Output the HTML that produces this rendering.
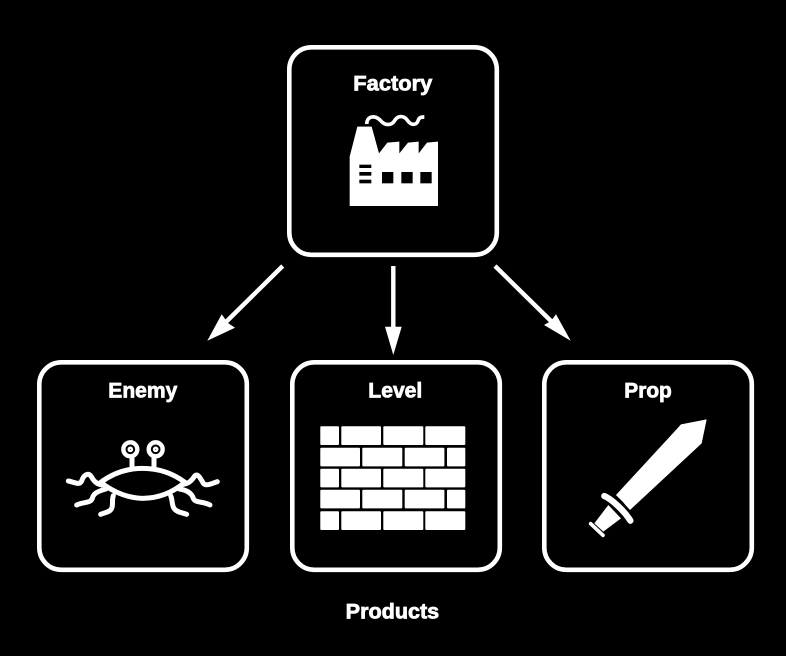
<!DOCTYPE html>
<html>
<head>
<meta charset="utf-8">
<style>
html,body{margin:0;padding:0;background:#000;width:786px;height:656px;overflow:hidden}
svg{display:block;filter:blur(.35px)}
text{font-family:"Liberation Sans",sans-serif;font-weight:bold;font-size:21px;fill:#fff;stroke:#fff;stroke-width:.75px}
</style>
</head>
<body>
<svg width="786" height="656" viewBox="0 0 786 656">
<rect width="786" height="656" fill="#000"/>
<g fill="#000" stroke="#fff" stroke-width="4.6">
<rect x="289.3" y="47.3" width="207.5" height="207.5" rx="22"/>
<rect x="39.3" y="362.3" width="207.5" height="207.5" rx="22"/>
<rect x="292.3" y="362.3" width="207.5" height="207.5" rx="22"/>
<rect x="544.3" y="362.3" width="207.5" height="207.5" rx="22"/>
</g>
<text x="353.3" y="90.5" textLength="79" lengthAdjust="spacingAndGlyphs">Factory</text>
<text x="108.3" y="397.3" textLength="69" lengthAdjust="spacingAndGlyphs">Enemy</text>
<text x="368.3" y="397.3" textLength="54" lengthAdjust="spacingAndGlyphs">Level</text>
<text x="624.3" y="397.3" textLength="47.5" lengthAdjust="spacingAndGlyphs">Prop</text>
<text x="345.7" y="618.5" textLength="93.5" lengthAdjust="spacingAndGlyphs">Products</text>

<!-- factory -->
<g transform="translate(280,40) scale(.33333)">
<path fill="#fff" d="M209 498V350L232 260H275L297 340L322 308L358 305V340L384 308L416 305V340L441 308L474 305V498Z"/>
<g fill="#000">
<rect x="306" y="396" width="34" height="34"/>
<rect x="364" y="396" width="34" height="34"/>
<rect x="421" y="396" width="34" height="34"/>
<rect x="238" y="374" width="36" height="10"/>
<rect x="238" y="396" width="36" height="11"/>
<rect x="238" y="419" width="36" height="11"/>
</g>
<path fill="none" stroke="#fff" stroke-width="11" d="M260 252C262 226 285 226 300 240C315 258 335 258 345 240C355 226 372 226 383 242C395 258 410 256 415 240C418 232 424 231 433 231"/>
</g>

<!-- enemy -->
<g transform="translate(30,355) scale(.33333)" fill="none" stroke="#fff" stroke-width="15" stroke-linecap="round" stroke-linejoin="round">
<circle cx="301" cy="283" r="21" stroke-width="13"/>
<circle cx="377" cy="283" r="21" stroke-width="13"/>
<circle cx="301" cy="283" r="5" stroke-width="7"/>
<circle cx="377" cy="283" r="5" stroke-width="7"/>
<path d="M306 304V340M372 304V340"/>
<path d="M212 382C255 350 300 340 338 340C380 340 425 352 465 382C425 415 380 430 338 430C300 430 255 415 212 382Z"/>
<path d="M215 390C195 385 190 375 182 362C172 352 160 362 155 378C148 392 135 382 115 378"/>
<path d="M228 402C205 408 190 415 187 430C182 445 160 440 140 450"/>
<path d="M250 422C245 435 250 450 245 460C240 472 225 472 212 478"/>
<path d="M460 388C480 385 488 372 495 362C505 355 512 372 520 385C530 395 545 385 562 380"/>
<path d="M448 402C470 405 485 415 490 430C495 445 520 438 540 450"/>
<path d="M422 422C428 435 425 450 432 460C440 472 455 472 470 478"/>
</g>

<!-- bricks -->
<g fill="#fff">
<rect x="320.3" y="426.3" width="18.7" height="18.7" rx="1"/><rect x="341.3" y="426.3" width="39.7" height="18.7" rx="1"/><rect x="383.3" y="426.3" width="40" height="18.7" rx="1"/><rect x="425.3" y="426.3" width="40" height="18.7" rx="1"/>
<rect x="320.3" y="447.7" width="39.7" height="18.7" rx="1"/><rect x="362.3" y="447.7" width="40" height="18.7" rx="1"/><rect x="404.7" y="447.7" width="39.7" height="18.7" rx="1"/><rect x="447" y="447.7" width="18.3" height="18.7" rx="1"/>
<rect x="320.3" y="468.7" width="18.7" height="18.7" rx="1"/><rect x="341.3" y="468.7" width="39.7" height="18.7" rx="1"/><rect x="383.3" y="468.7" width="40" height="18.7" rx="1"/><rect x="425.3" y="468.7" width="40" height="18.7" rx="1"/>
<rect x="320.3" y="489.7" width="39.7" height="18.7" rx="1"/><rect x="362.3" y="489.7" width="40" height="18.7" rx="1"/><rect x="404.7" y="489.7" width="39.7" height="18.7" rx="1"/><rect x="447" y="489.7" width="18.3" height="18.7" rx="1"/>
<rect x="320.3" y="511.3" width="18.7" height="18.7" rx="1"/><rect x="341.3" y="511.3" width="39.7" height="18.7" rx="1"/><rect x="383.3" y="511.3" width="40" height="18.7" rx="1"/><rect x="425.3" y="511.3" width="40" height="18.7" rx="1"/>
</g>

<!-- sword -->
<g transform="translate(535,355) scale(.33333)">
<path fill="#fff" d="M515 193L438 208L420 228L243 420L285 465L500 265Z"/>
<path fill="none" stroke="#fff" stroke-width="19" stroke-linecap="round" d="M208 423C230 432 270 470 286 497"/>
<path fill="none" stroke="#000" stroke-width="3" d="M238 420C255 432 270 448 280 466"/>
<path fill="#fff" d="M220 450L258 490L205 530L178 505Z"/>
<path fill="none" stroke="#fff" stroke-width="11" stroke-linecap="round" d="M167 506L204 541"/>
</g>

<!-- arrows -->
<g stroke="#fff" stroke-width="4.4" fill="none">
<path d="M282.7 266L226 322"/>
<path d="M393.3 266V330"/>
<path d="M495 266L552 322"/>
</g>
<g fill="#fff">
<path d="M207.3 340.7L221.7 314.3L228 323L235 327.7Z"/>
<path d="M385 326.7H401.7L393.3 355Z"/>
<path d="M570.7 340.7L556 314.3L551 321L544 325Z"/>
</g>
</svg>
</body>
</html>
